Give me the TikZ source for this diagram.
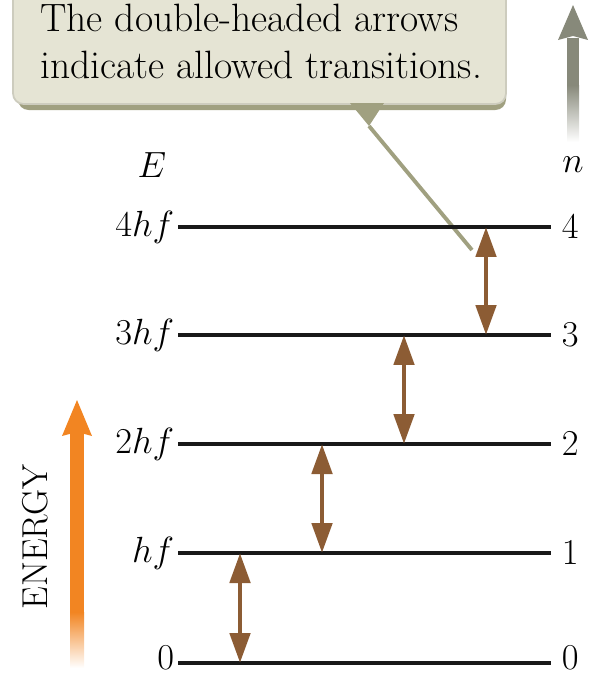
\documentclass[tikz,border=0pt]{standalone}
\usepackage{amsmath}
\usepackage{amssymb}
\usepackage{tikz}
\usetikzlibrary{arrows.meta,calc}

\definecolor{transbrown}{RGB}{140,92,52}
\definecolor{notefill}{RGB}{229,228,212}
\definecolor{noteedge}{RGB}{205,204,190}
\definecolor{noteshade}{RGB}{160,160,128}
\definecolor{ngray}{RGB}{135,137,122}
\definecolor{energyorange}{RGB}{242,133,34}

\begin{document}
\begin{tikzpicture}[x=0.02cm, y=-0.02cm,
        level/.style={line width=2.3pt, black!90},
        elab/.style={anchor=east, inner sep=2pt, font=\fontsize{21}{24}\selectfont},
        nlab/.style={anchor=west, inner sep=2pt, font=\fontsize{21}{24}\selectfont},
        trans/.style={{Triangle[length=0.6cm,width=0.4cm]}-{Triangle[length=0.6cm,width=0.4cm]}, line width=2.8pt, transbrown},
        note/.style={anchor=north west, align=left, inner sep=0pt, font=\fontsize{22.5}{26.7}\selectfont}
    ]
        \useasboundingbox (0,0) rectangle (591,676);

        % Callout box
        \fill[noteshade, rounded corners=6pt] (18,-20) rectangle (506,110);
        \draw[noteedge, fill=notefill, line width=1pt, rounded corners=6pt] (13,-20) rectangle (506,104);
        \node[note] (note) at (40,4) {The double-headed arrows\\indicate allowed transitions.};
        \coordinate (pbase) at (369,126);
        \coordinate (ptip) at (472,250);
        \fill[noteshade] (350,103) -- (384,103) -- (pbase) -- cycle;
        \draw[noteshade, line width=2.2pt] (pbase) -- (ptip);

        % Levels
        \foreach \n/\y/\lab/\dy in {0/663/0/-5, 1/553/hf/0, 2/444/2hf/0, 3/335/3hf/0, 4/227/4hf/0} {
            \coordinate (L\n) at (178,\y);
            \coordinate (R\n) at (551,\y);
            \draw[level] (L\n) -- (R\n);
            \node[elab] (e\n) at ($(L\n)+(0,\dy)$) {$\lab$};
            \node[nlab] (n\n) at ($(R\n)+(7,\dy)$) {$\n$};
        }

        % Axis labels
        \node[font=\fontsize{21}{24}\selectfont] (E) at (152,165) {$E$};
        \node[font=\fontsize{21}{24}\selectfont] (n) at (573,165) {$n$};

        % Transitions
        \foreach \i/\j/\dx in {0/1/62, 1/2/144, 2/3/226, 3/4/308}
            \draw[trans] ($(L\i)+(\dx,0)$) -- ($(L\j)+(\dx,0)$);

        % n arrow (gray)
        \fill[ngray] (567,38) rectangle (579,85);
        \shade[top color=ngray, bottom color=white] (567,85) rectangle (579,142);
        \fill[ngray] (558,40) -- (573,5) -- (588,40) -- (573,36) -- cycle;

        % Energy arrow (orange)
        \fill[energyorange] (70,432) rectangle (84,612);
        \shade[top color=energyorange, bottom color=white] (70,612) rectangle (84,668);
        \fill[energyorange] (62,436) -- (77,400) -- (92,436) -- (77,432) -- cycle;
        \node[rotate=90, font=\fontsize{20.5}{24}\selectfont] (energy) at (35,537) {ENERGY};

    \end{tikzpicture}
\end{document}
